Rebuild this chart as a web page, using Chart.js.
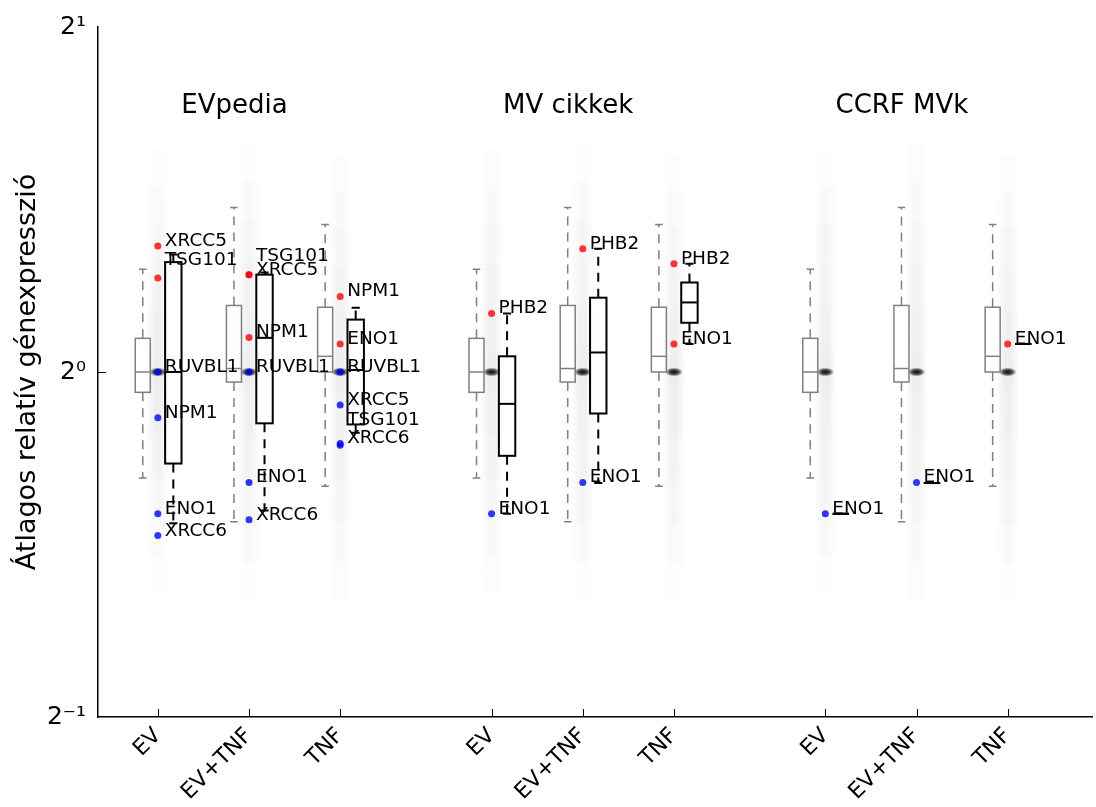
<!DOCTYPE html>
<html>
<head>
<meta charset="utf-8">
<script src="https://cdn.jsdelivr.net/npm/chart.js@4.4.1/dist/chart.umd.min.js"></script>
<style>
  html, body { margin: 0; padding: 0; background: #fff; }
</style>
</head>
<body>
<canvas id="myChart" width="1096" height="807"></canvas>
<script>
const conditions = ['EV', 'EV+TNF', 'TNF'];
const groupTitles = ['EVpedia', 'MV cikkek', 'CCRF MVk'];
const categoryPositions = [1, 2, 3, 4.66, 5.66, 6.66, 8.32, 9.32, 10.32];
const yTickValues = [0.5, 1, 2];

const groupGenes = [
    ['XRCC5', 'TSG101', 'RUVBL1', 'NPM1', 'ENO1', 'XRCC6'],
    ['PHB2', 'ENO1'],
    ['ENO1'],
];

// mean relative expression of the selected genes
const genes = ['XRCC5', 'TSG101', 'RUVBL1', 'NPM1', 'ENO1', 'XRCC6', 'PHB2'];
const valuesEV = [1.288, 1.208, 1.0, 0.912, 0.752, 0.720, 1.125];
const valuesEVTNF = [1.216, 1.216, 1.0, 1.072, 0.801, 0.743, 1.281];
const valuesTNF = [0.936, 0.866, 1.0, 1.164, 1.058, 0.863, 1.243];

// all genes (grey boxes + cloud), per condition
const bgLow = [0.808, 0.740, 0.795];
const bgQ1 = [0.960, 0.980, 1.0];
const bgMedian = [1.0, 1.007, 1.032];
const bgQ3 = [1.070, 1.143, 1.139];
const bgHigh = [1.229, 1.392, 1.345];
const cloudLow = [0.62, 0.61, 0.61];
const cloudHigh = [1.62, 1.64, 1.60];

// selected genes (black boxes), per category
const selLow = [0.738, 0.757, 0.885, 0.752, 0.800, 1.058, 0.752, 0.800, 1.058];
const selQ1 = [0.832, 0.902, 0.900, 0.845, 0.920, 1.104, 0.752, 0.800, 1.058];
const selMedian = [1.0, 1.071, 1.004, 0.938, 1.040, 1.150, 0.752, 0.800, 1.058];
const selQ3 = [1.247, 1.216, 1.111, 1.032, 1.161, 1.197, 0.752, 0.800, 1.058];
const selHigh = [1.266, 1.221, 1.138, 1.125, 1.281, 1.243, 0.752, 0.800, 1.058];

// label nudges (px) where labels were pushed apart
const labelShift = { '0-0-TSG101': -13, '0-1-TSG101': -14, '0-2-TSG101': -19, '0-2-XRCC6': -2 };

const valuesByCondition = [valuesEV, valuesEVTNF, valuesTNF];
const tickLabels = categoryPositions.map((p, i) => conditions[i % 3]);

const points = [];
groupGenes.forEach((list, g) => {
    conditions.forEach((cond, c) => {
        list.forEach(gene => {
            points.push({
                x: categoryPositions[g * 3 + c],
                y: valuesByCondition[c][genes.indexOf(gene)],
                gene: gene, g: g, c: c
            });
        });
    });
});

Chart.defaults.font.family = '"DejaVu Sans", sans-serif';

const supMap = { '-': '\u207B', '0': '\u2070', '1': '\u00B9', '2': '\u00B2' };
function powLabel(v) {
    const e = String(Math.round(Math.log2(v)));
    return '2' + e.split('').map(ch => supMap[ch]).join('');
}

function drawBox(ctx, cx, w, px, color, lw, dash) {
    const [lo, q1, med, q3, hi] = px;
    ctx.save();
    ctx.strokeStyle = color;
    ctx.lineWidth = lw;
    ctx.strokeRect(cx - w / 2, q3, w, q1 - q3);
    ctx.beginPath();
    ctx.moveTo(cx - w / 2, med);
    ctx.lineTo(cx + w / 2, med);
    ctx.stroke();
    ctx.setLineDash(dash);
    ctx.beginPath();
    ctx.moveTo(cx, q1); ctx.lineTo(cx, lo);
    ctx.moveTo(cx, q3); ctx.lineTo(cx, hi);
    ctx.stroke();
    ctx.setLineDash([]);
    ctx.beginPath();
    ctx.moveTo(cx - w / 4, lo); ctx.lineTo(cx + w / 4, lo);
    ctx.moveTo(cx - w / 4, hi); ctx.lineTo(cx + w / 4, hi);
    ctx.stroke();
    ctx.restore();
}

function drawCloud(ctx, cx, top, bottom, mid) {
    const f = (mid - top) / (bottom - top);
    const g = ctx.createLinearGradient(0, top, 0, bottom);
    g.addColorStop(0, 'rgba(0,0,0,0)');
    g.addColorStop(f * 0.45, 'rgba(0,0,0,0.013)');
    g.addColorStop(f, 'rgba(0,0,0,0.025)');
    g.addColorStop(f + (1 - f) * 0.55, 'rgba(0,0,0,0.013)');
    g.addColorStop(1, 'rgba(0,0,0,0)');
    ctx.fillStyle = g;
    [10, 7, 4].forEach(hw => ctx.fillRect(cx - hw, top, hw * 2, bottom - top));
    // dense spot of the reference genes at 1.0
    ctx.save();
    ctx.translate(cx, mid);
    ctx.scale(2, 1);
    const r = ctx.createRadialGradient(0, 0, 0, 0, 0, 4.5);
    r.addColorStop(0, 'rgba(0,0,0,0.95)');
    r.addColorStop(0.5, 'rgba(0,0,0,0.7)');
    r.addColorStop(1, 'rgba(0,0,0,0)');
    ctx.fillStyle = r;
    ctx.beginPath();
    ctx.arc(0, 0, 4.5, 0, Math.PI * 2);
    ctx.fill();
    ctx.restore();
}

const boxPlugin = {
    id: 'boxes',
    beforeDatasetsDraw(chart) {
        const { ctx, scales: { x, y } } = chart;
        const unit = x.getPixelForValue(1) - x.getPixelForValue(0);
        categoryPositions.forEach((pos, i) => {
            const c = i % 3;
            const cx = x.getPixelForValue(pos);
            drawCloud(ctx, cx, y.getPixelForValue(cloudHigh[c]), y.getPixelForValue(cloudLow[c]), y.getPixelForValue(1));
            const bg = [bgLow[c], bgQ1[c], bgMedian[c], bgQ3[c], bgHigh[c]].map(v => y.getPixelForValue(v));
            drawBox(ctx, cx - 0.165 * unit, 0.165 * unit, bg, '#808080', 1.5, [9, 7]);
            const sel = [selLow[i], selQ1[i], selMedian[i], selQ3[i], selHigh[i]].map(v => y.getPixelForValue(v));
            drawBox(ctx, cx + 0.17 * unit, 0.18 * unit, sel, '#000', 2, [9, 7]);
        });
    },
    afterDatasetsDraw(chart) {
        const { ctx, scales: { x, y }, chartArea } = chart;
        const unit = x.getPixelForValue(1) - x.getPixelForValue(0);
        ctx.save();
        ctx.fillStyle = '#000';
        ctx.font = '18.5px "DejaVu Sans"';
        ctx.textAlign = 'left';
        ctx.textBaseline = 'alphabetic';
        points.forEach(p => {
            const dy = labelShift[p.g + '-' + p.c + '-' + p.gene] || 0;
            ctx.fillText(p.gene, x.getPixelForValue(p.x) + 7, y.getPixelForValue(p.y) + dy);
        });
        ctx.font = '26px "DejaVu Sans"';
        ctx.textAlign = 'center';
        ctx.textBaseline = 'middle';
        groupTitles.forEach((t, g) => {
            ctx.fillText(t, x.getPixelForValue(categoryPositions[g * 3 + 1]) - 0.16 * unit, y.getPixelForValue(1.705));
        });
        // inward tick marks
        ctx.strokeStyle = '#000';
        ctx.lineWidth = 1;
        ctx.beginPath();
        categoryPositions.forEach(pos => {
            const px = Math.round(x.getPixelForValue(pos)) + 0.5;
            ctx.moveTo(px, chartArea.bottom);
            ctx.lineTo(px, chartArea.bottom - 8);
        });
        const py = Math.round(y.getPixelForValue(1)) + 0.5;
        ctx.moveTo(chartArea.left, py);
        ctx.lineTo(chartArea.left + 8, py);
        ctx.stroke();
        ctx.restore();
    }
};

const chartElement = document.querySelector('#myChart');

new Chart(chartElement, {
    type: 'scatter',
    data: {
        datasets: [{
            data: points,
            pointRadius: 3.5,
            pointHoverRadius: 3.5,
            borderWidth: 0,
            backgroundColor: points.map(p => p.y > 1 ? 'rgba(255,0,0,0.8)' : 'rgba(0,0,255,0.8)'),
        }]
    },
    options: {
        responsive: false,
        animation: false,
        layout: { padding: { top: 26, right: 0, left: 0, bottom: 0 } },
        plugins: {
            legend: { display: false },
            tooltip: { enabled: false }
        },
        scales: {
            x: {
                type: 'linear',
                min: 0.344,
                max: 11.25,
                afterBuildTicks: scale => { scale.ticks = categoryPositions.map(v => ({ value: v })); },
                afterFit: scale => { scale.height = 90; },
                ticks: {
                    autoSkip: false,
                    minRotation: 45,
                    maxRotation: 45,
                    padding: 6,
                    color: '#000',
                    font: { size: 22 },
                    callback: (value, index) => tickLabels[index]
                },
                grid: { drawOnChartArea: false, drawTicks: false },
                border: { color: '#000', width: 1.5 }
            },
            y: {
                type: 'logarithmic',
                min: 0.5,
                max: 2,
                afterBuildTicks: scale => { scale.ticks = yTickValues.map(v => ({ value: v })); },
                afterFit: scale => { scale.width = 98; },
                ticks: {
                    padding: 12,
                    color: '#000',
                    font: { size: 25 },
                    callback: value => powLabel(value)
                },
                grid: { drawOnChartArea: false, drawTicks: false },
                border: { color: '#000', width: 1.5 },
                title: {
                    display: true,
                    text: 'Átlagos relatív génexpresszió',
                    color: '#000',
                    font: { size: 27 },
                    padding: { top: 12, bottom: 0 }
                }
            }
        }
    },
    plugins: [boxPlugin]
});
</script>
</body>
</html>
